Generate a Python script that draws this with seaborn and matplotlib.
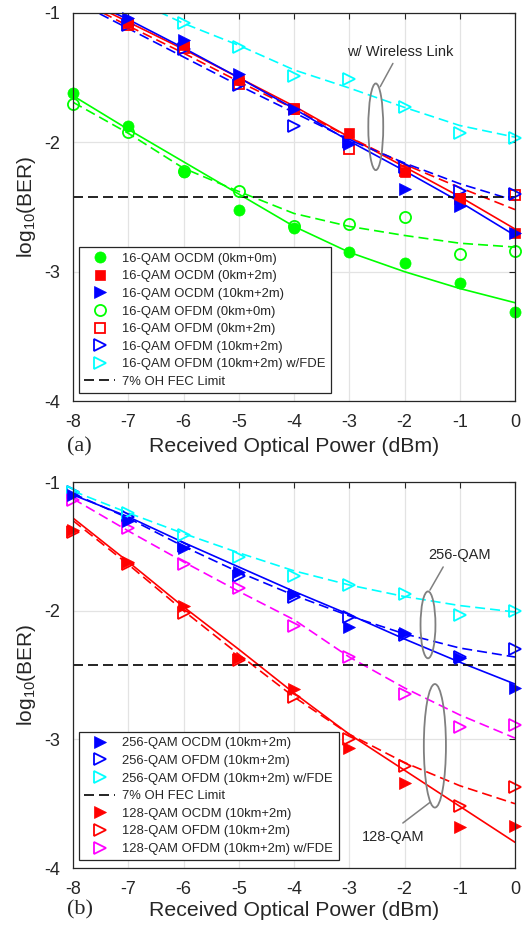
import numpy as np
import pandas as pd
import seaborn as sns
import matplotlib.pyplot as plt
from matplotlib.lines import Line2D
from matplotlib.patches import Ellipse

# Received optical power (dBm)
power = [-8, -7, -6, -5, -4, -3, -2, -1, 0]
FEC_LIMIT = -2.42

# ---------- (a) 16-QAM, measured points ----------
a_ocdm_00 = [-1.62, -1.87, -2.23, -2.52, -2.66, -2.85, -2.93, -3.09, -3.31]
a_ocdm_02 = [np.nan, -1.08, -1.25, -1.52, -1.74, -1.93, -2.23, -2.43, -2.70]
a_ocdm_102 = [np.nan, -1.04, -1.21, -1.47, -1.74, -2.01, -2.36, -2.49, -2.70]
a_ofdm_00 = [-1.70, -1.92, -2.22, -2.38, -2.65, -2.63, -2.58, -2.86, -2.84]
a_ofdm_02 = [np.nan, -1.09, -1.27, -1.55, -1.74, -2.05, -2.22, -2.44, -2.41]
a_ofdm_102 = [np.nan, -1.09, -1.28, -1.56, -1.87, -2.00, -2.19, -2.38, -2.40]
a_ofdm_fde = [np.nan, np.nan, -1.08, -1.26, -1.49, -1.51, -1.73, -1.93, -1.97]

# (a) fitted curves
a_fit_ocdm_00 = [-1.64, -1.90, -2.15, -2.40, -2.65, -2.85, -3.00, -3.13, -3.24]
a_fit_ocdm_02 = [-0.86, -1.07, -1.28, -1.50, -1.72, -1.96, -2.19, -2.42, -2.67]
a_fit_ocdm_102 = [-0.85, -1.05, -1.27, -1.50, -1.74, -1.99, -2.22, -2.46, -2.72]
a_fit_ofdm_00 = [-1.69, -1.93, -2.20, -2.38, -2.55, -2.65, -2.72, -2.78, -2.81]
a_fit_ofdm_02 = [-0.88, -1.10, -1.31, -1.53, -1.74, -1.96, -2.17, -2.35, -2.52]
a_fit_ofdm_102 = [-0.90, -1.12, -1.34, -1.56, -1.77, -1.98, -2.16, -2.32, -2.45]
a_fit_ofdm_fde = [-0.86, -0.88, -1.08, -1.25, -1.44, -1.58, -1.73, -1.87, -1.96]

# ---------- (b) 256/128-QAM, measured points ----------
b_ocdm_256 = [-1.10, -1.30, -1.51, -1.70, -1.87, -2.13, -2.17, -2.37, -2.60]
b_ofdm_256 = [-1.08, -1.27, -1.50, -1.73, -1.89, -2.05, -2.19, -2.36, -2.30]
b_fde_256 = [-1.08, -1.24, -1.41, -1.58, -1.73, -1.80, -1.87, -2.03, -2.00]
b_ocdm_128 = [-1.37, -1.62, -1.96, -2.37, -2.61, -3.07, -3.34, -3.68, -3.67]
b_ofdm_128 = [-1.39, -1.64, -2.02, -2.38, -2.67, -3.00, -3.21, -3.52, -3.37]
b_fde_128 = [-1.14, -1.36, -1.64, -1.82, -2.12, -2.36, -2.65, -2.90, -2.89]

# (b) fitted curves
b_fit_ocdm_256 = [-1.10, -1.27, -1.47, -1.66, -1.85, -2.03, -2.22, -2.40, -2.57]
b_fit_ofdm_256 = [-1.09, -1.28, -1.50, -1.70, -1.88, -2.04, -2.18, -2.29, -2.36]
b_fit_fde_256 = [-1.07, -1.24, -1.40, -1.55, -1.69, -1.80, -1.89, -1.96, -2.01]
b_fit_ocdm_128 = [-1.28, -1.62, -1.97, -2.30, -2.64, -2.96, -3.24, -3.52, -3.80]
b_fit_ofdm_128 = [-1.30, -1.64, -2.00, -2.34, -2.67, -2.96, -3.18, -3.36, -3.50]
b_fit_fde_128 = [-1.13, -1.38, -1.62, -1.85, -2.07, -2.36, -2.60, -2.81, -2.99]

GREEN, RED, BLUE, CYAN, MAGENTA = "#00ff00", "#ff0000", "#0000ff", "#00ffff", "#ff00ff"
DASH = (6, 3)
LW = 1.2
MS = 8


def draw_fit(ax, y, color, dashed):
    sns.lineplot(x=power, y=y, ax=ax, color=color, lw=LW, legend=False)
    if dashed:
        ax.lines[-1].set_dashes(DASH)


def draw_points(ax, y, color, marker, filled, size=MS):
    df = pd.DataFrame({"p": power, "v": y}).dropna()
    sns.lineplot(data=df, x="p", y="v", ax=ax, linestyle="", marker=marker,
                 markersize=size, color=color,
                 markerfacecolor=color if filled else "none",
                 markeredgecolor=color, markeredgewidth=1.3 if not filled else 0.5,
                 legend=False)
    ax.lines[-1].set_clip_on(False)


def handle(color, marker, filled, size=MS):
    return Line2D([], [], linestyle="", marker=marker, markersize=size, color=color,
                  markerfacecolor=color if filled else "none",
                  markeredgecolor=color, markeredgewidth=1.3 if not filled else 0.5)


def style_axes(ax):
    ax.set_xlim(-8, 0)
    ax.set_ylim(-4, -1)
    ax.set_xticks(power)
    ax.set_yticks([-4, -3, -2, -1])
    ax.grid(True, color="#e3e3e3", lw=0.9)
    ax.set_axisbelow(True)
    for s in ax.spines.values():
        s.set_color("#262626")
        s.set_linewidth(0.9)
        s.set_zorder(10)
    ax.tick_params(direction="in", top=True, right=True, length=4, width=0.8,
                   labelsize=13, colors="#262626", pad=9)
    ax.set_xlabel("")
    ax.set_ylabel("log$_{10}$(BER)", fontsize=15, labelpad=5)


def fec(ax):
    sns.lineplot(x=[-8, 0], y=[FEC_LIMIT, FEC_LIMIT], ax=ax, color="black", lw=LW,
                 legend=False)
    ax.lines[-1].set_dashes(DASH)


def oval(ax, xy, w, h, line_from, line_to):
    ax.add_patch(Ellipse(xy, w, h, fill=False, edgecolor="#808080", lw=1.3, zorder=6))
    ax.plot([line_from[0], line_to[0]], [line_from[1], line_to[1]],
            color="#808080", lw=1.1, zorder=6)


def make_legend(ax, handles, labels):
    leg = ax.legend(handles, labels, loc="lower left", bbox_to_anchor=(0.013, 0.02),
                    fontsize=9.4, frameon=True, fancybox=False, framealpha=1,
                    edgecolor="#262626", borderpad=0.4, labelspacing=0.42,
                    handlelength=2.4, handletextpad=0.55, borderaxespad=0)
    leg.get_frame().set_linewidth(0.9)
    leg.set_zorder(20)


sns.set_style("whitegrid")
plt.rcParams["font.family"] = ["Liberation Sans", "DejaVu Sans"]
plt.rcParams["mathtext.fontset"] = "custom"
plt.rcParams["mathtext.rm"] = "Liberation Sans"
plt.rcParams["axes.unicode_minus"] = False

fig = plt.figure(figsize=(5.23, 9.27), dpi=100)
ax1 = fig.add_axes([0.1396, 0.5674, 0.8451, 0.4186])
ax2 = fig.add_axes([0.1396, 0.0636, 0.8451, 0.4164])

# ---- panel (a) ----
draw_fit(ax1, a_fit_ocdm_00, GREEN, False)
draw_fit(ax1, a_fit_ofdm_00, GREEN, True)
draw_fit(ax1, a_fit_ocdm_02, RED, False)
draw_fit(ax1, a_fit_ofdm_02, RED, True)
draw_fit(ax1, a_fit_ocdm_102, BLUE, False)
draw_fit(ax1, a_fit_ofdm_102, BLUE, True)
draw_fit(ax1, a_fit_ofdm_fde, CYAN, True)
fec(ax1)
draw_points(ax1, a_ofdm_00, GREEN, "o", False)
draw_points(ax1, a_ofdm_02, RED, "s", False, 7)
draw_points(ax1, a_ofdm_102, BLUE, ">", False)
draw_points(ax1, a_ofdm_fde, CYAN, ">", False)
draw_points(ax1, a_ocdm_00, GREEN, "o", True)
draw_points(ax1, a_ocdm_02, RED, "s", True, 7)
draw_points(ax1, a_ocdm_102, BLUE, ">", True)
style_axes(ax1)

h1 = [handle(GREEN, "o", True), handle(RED, "s", True, 7), handle(BLUE, ">", True),
      handle(GREEN, "o", False), handle(RED, "s", False, 7), handle(BLUE, ">", False),
      handle(CYAN, ">", False),
      Line2D([], [], color="black", lw=LW, linestyle=(0, DASH))]
l1 = ["16-QAM OCDM (0km+0m)", "16-QAM OCDM (0km+2m)", "16-QAM OCDM (10km+2m)",
      "16-QAM OFDM (0km+0m)", "16-QAM OFDM (0km+2m)", "16-QAM OFDM (10km+2m)",
      "16-QAM OFDM (10km+2m) w/FDE", "7% OH FEC Limit"]
make_legend(ax1, h1, l1)

oval(ax1, (-2.52, -1.88), 0.27, 0.67, (-2.44, -1.57), (-2.21, -1.39))
ax1.text(-2.08, -1.30, "w/ Wireless Link", fontsize=10.5, ha="center", va="center")

# ---- panel (b) ----
draw_fit(ax2, b_fit_ocdm_256, BLUE, False)
draw_fit(ax2, b_fit_ofdm_256, BLUE, True)
draw_fit(ax2, b_fit_fde_256, CYAN, True)
draw_fit(ax2, b_fit_ocdm_128, RED, False)
draw_fit(ax2, b_fit_ofdm_128, RED, True)
draw_fit(ax2, b_fit_fde_128, MAGENTA, True)
fec(ax2)
draw_points(ax2, b_ofdm_256, BLUE, ">", False)
draw_points(ax2, b_fde_256, CYAN, ">", False)
draw_points(ax2, b_ofdm_128, RED, ">", False)
draw_points(ax2, b_fde_128, MAGENTA, ">", False)
draw_points(ax2, b_ocdm_256, BLUE, ">", True)
draw_points(ax2, b_ocdm_128, RED, ">", True)
style_axes(ax2)

h2 = [handle(BLUE, ">", True), handle(BLUE, ">", False), handle(CYAN, ">", False),
      Line2D([], [], color="black", lw=LW, linestyle=(0, DASH)),
      handle(RED, ">", True), handle(RED, ">", False), handle(MAGENTA, ">", False)]
l2 = ["256-QAM OCDM (10km+2m)", "256-QAM OFDM (10km+2m)",
      "256-QAM OFDM (10km+2m) w/FDE", "7% OH FEC Limit",
      "128-QAM OCDM (10km+2m)", "128-QAM OFDM (10km+2m)",
      "128-QAM OFDM (10km+2m) w/FDE"]
make_legend(ax2, h2, l2)

oval(ax2, (-1.575, -2.11), 0.27, 0.52, (-1.54, -1.84), (-1.30, -1.66))
ax2.text(-1.0, -1.57, "256-QAM", fontsize=10.5, ha="center", va="center")
oval(ax2, (-1.45, -3.05), 0.40, 0.96, (-1.54, -3.49), (-2.03, -3.65))
ax2.text(-2.21, -3.76, "128-QAM", fontsize=10.5, ha="center", va="center")

# x labels and panel tags
fig.text(294 / 523, 1 - 446 / 927, "Received Optical Power (dBm)", fontsize=15.3,
         ha="center", va="center")
fig.text(294 / 523, 1 - 911 / 927, "Received Optical Power (dBm)", fontsize=15.3,
         ha="center", va="center")
fig.text(79 / 523, 1 - 447 / 927, "(a)", fontsize=16, ha="center", va="center",
         family=["Liberation Serif", "DejaVu Serif"])
fig.text(80 / 523, 1 - 910 / 927, "(b)", fontsize=16, ha="center", va="center",
         family=["Liberation Serif", "DejaVu Serif"])

fig.savefig("out.png", dpi=100)
